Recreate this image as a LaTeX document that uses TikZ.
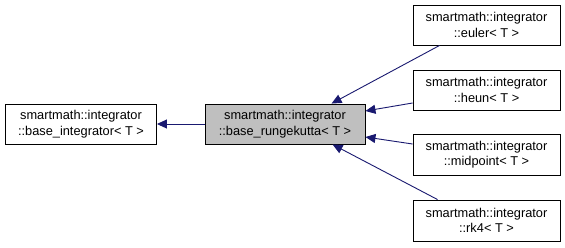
\documentclass[tikz,border=0pt]{standalone}
\usepackage{fontspec}
\setmainfont{Liberation Sans}
\usetikzlibrary{arrows.meta}
\definecolor{edgeblue}{HTML}{191970}
\definecolor{curfill}{HTML}{BFBFBF}
\begin{document}
\begin{tikzpicture}[x=1pt,y=-1pt,
  cls/.style={draw=black, line width=0.9pt, fill=white, rectangle, align=center,
    inner sep=0pt, minimum height=40pt,
    font=\fontsize{12.8}{15.5}\selectfont},
  cur/.style={cls, fill=curfill},
  inh/.style={draw=edgeblue, line width=0.9pt,
    -{Triangle[length=10pt,width=9pt,fill=edgeblue]}}]
\useasboundingbox (0,0) rectangle (565,247);
\fill[white] (0,0) rectangle (565,247);

\node[cls, minimum width=151pt] (bi) at (81,124) {smartmath::integrator\\::base\_integrator< T >};
\node[cur, minimum width=160pt] (rk) at (285,124) {smartmath::integrator\\::base\_rungekutta< T >};
\node[cls, minimum width=147pt] (eu) at (486.5,25) {smartmath::integrator\\::euler< T >};
\node[cls, minimum width=147pt] (he) at (486.5,90) {smartmath::integrator\\::heun< T >};
\node[cls, minimum width=147pt, minimum height=41pt] (mp) at (486.5,154.5) {smartmath::integrator\\::midpoint< T >};
\node[cls, minimum width=147pt, minimum height=41pt] (r4) at (486.5,220.5) {smartmath::integrator\\::rk4< T >};

\draw[inh] (rk.west) -- (bi.east);
\draw[inh] ([xshift=27pt]eu.south west) -- ([xshift=127pt]rk.north west);
\draw[inh] ([yshift=-13pt]he.west) -- ([yshift=13pt]rk.east);
\draw[inh] ([yshift=10.5pt]mp.west) -- ([yshift=-13pt]rk.east);
\draw[inh] ([xshift=25pt]r4.north west) -- ([xshift=128pt]rk.south west);
\end{tikzpicture}
\end{document}
